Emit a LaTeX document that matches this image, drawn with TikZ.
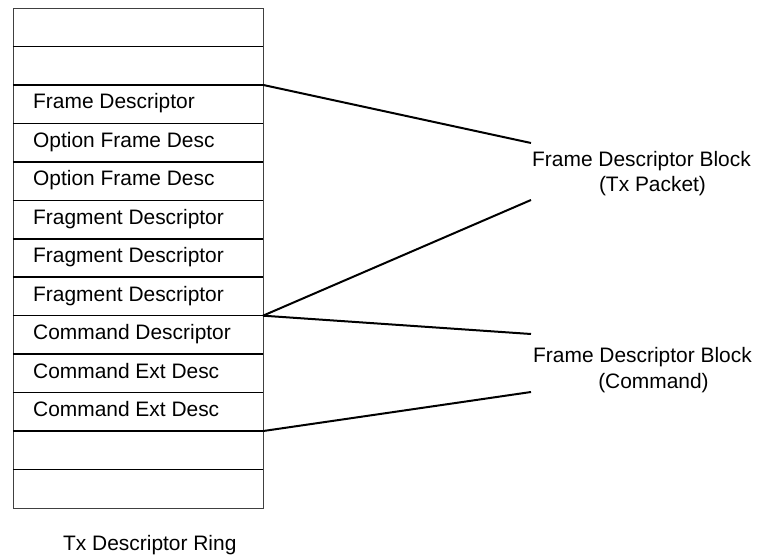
\documentclass[tikz,border=0pt]{standalone}
\usepackage{fontspec}
\setmainfont{Liberation Sans}
\usetikzlibrary{calc}

\tikzset{
  slot/.style={rectangle, minimum width=250bp, minimum height=38.46bp, inner sep=0pt, outer sep=0pt},
  slottext/.style={anchor=base west, inner sep=0pt, font=\fontsize{21}{26}\selectfont},
  divider/.style={line width=1.5bp, black},
  frame/.style={line width=0.8bp, black!75},
  link/.style={line width=2bp, black},
  blocklabel/.style={anchor=base west, inner sep=0pt, align=center, font=\fontsize{21}{26}\selectfont},
}

\begin{document}
\begin{tikzpicture}[x=1bp, y=-1bp]
  \useasboundingbox (0,0) rectangle (760,559);

  % the thirteen slots of the descriptor ring
  \foreach \i in {1,...,13} {
    \node[slot] (r\i) at (138, {8 + 38.46*(\i - 0.5)}) {};
  }

  % slot contents
  \foreach \i/\t in {3/Frame Descriptor, 4/Option Frame Desc, 5/Option Frame Desc,
                     6/Fragment Descriptor, 7/Fragment Descriptor, 8/Fragment Descriptor,
                     9/Command Descriptor, 10/Command Ext Desc, 11/Command Ext Desc} {
    \node[slottext] (t\i) at ($(r\i.north west) + (20, 24)$) {\t};
  }

  % ring outline and slot dividers
  \draw[frame] (r1.north west) rectangle (r13.south east);
  \foreach \i in {1,...,12} {
    \draw[divider] (r\i.south west) -- (r\i.south east);
  }

  % block labels (base anchor sits on the second line)
  \node[blocklabel] (txblock) at (532, 192) {Frame Descriptor Block\\\hspace*{22bp}(Tx Packet)};
  \node[blocklabel] (cmdblock) at (533, 388) {Frame Descriptor Block\\\hspace*{22bp}(Command)};

  % free ends of the bracket lines
  \coordinate (a1) at (531, 143);
  \coordinate (a2) at (531, 200);
  \coordinate (b1) at (531, 334);
  \coordinate (b2) at (531, 392);

  \draw[link] (r3.north east) -- (a1);
  \draw[link] (r9.north east) -- (a2);
  \draw[link] (r9.north east) -- (b1);
  \draw[link] (r11.south east) -- (b2);

  % caption
  \node[slottext] (caption) at (63, 550) {Tx Descriptor Ring};
\end{tikzpicture}
\end{document}
